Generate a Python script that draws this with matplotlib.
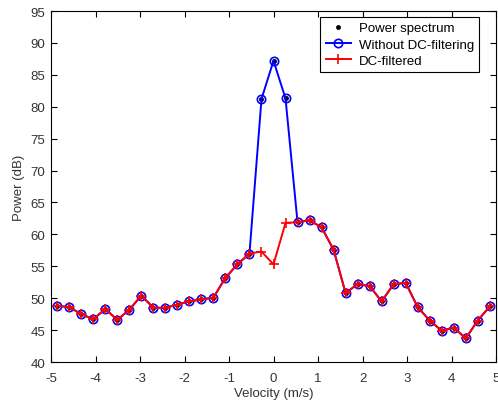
import numpy as np
import matplotlib.pyplot as plt

plt.rcParams['font.family'] = ['Liberation Sans', 'DejaVu Sans']
plt.rcParams['axes.unicode_minus'] = False

# velocity bins, k * dv
dv = 0.27
bins = np.arange(-18, 19)

# without DC filtering (also the raw power spectrum)
power_raw = [48.8, 48.6, 47.5, 46.7, 48.3, 46.6, 48.2, 50.4, 48.5, 48.5,
             49.0, 49.5, 49.8, 50.1, 53.2, 55.3, 57.0, 81.2, 87.2, 81.3,
             61.9, 62.2, 61.1, 57.6, 50.8, 52.2, 51.9, 49.5, 52.2, 52.4,
             48.6, 46.5, 44.9, 45.4, 43.7, 46.5, 48.7]

# DC-filtered, only the three bins round zero change
power_dc = list(power_raw)
power_dc[17] = 57.3
power_dc[18] = 55.3
power_dc[19] = 61.8

vel = bins * dv

fig = plt.figure(figsize=(4.98, 4.02), dpi=100)
ax = fig.add_axes([51 / 498, 1 - 363 / 402, 445 / 498, 351 / 402])

ax.plot(vel, power_raw, 'k.', markersize=5, label='Power spectrum')
ax.plot(vel, power_raw, '-o', color='#0000ff', lw=1.4, markersize=6,
        mfc='none', mew=1.2, label='Without DC-filtering')
ax.plot(vel, power_dc, '-+', color='#ff0000', lw=1.4, markersize=7,
        mew=1.2, label='DC-filtered')

ax.set_xlim(-5, 5)
ax.set_ylim(40, 95)
ax.set_xticks(np.arange(-5, 6, 1))
ax.set_yticks(np.arange(40, 96, 5))
ax.tick_params(direction='in', top=True, right=True, length=4,
               labelsize=9.5, width=0.8, labelcolor='#333333')
ax.tick_params(axis='x', pad=7)
ax.tick_params(axis='y', pad=4)
for s in ax.spines.values():
    s.set_linewidth(0.8)

ax.set_xlabel('Velocity (m/s)', fontsize=9.5, labelpad=2, color='#333333')
ax.set_ylabel('Power (dB)', fontsize=9.5, labelpad=4, color='#333333')

leg = ax.legend(loc='upper right', bbox_to_anchor=(0.962, 0.983),
                fontsize=9.5, fancybox=False, edgecolor='black',
                framealpha=1, handlelength=1.9, handletextpad=0.6,
                borderpad=0.4, labelspacing=0.3, borderaxespad=0)
leg.get_frame().set_linewidth(0.8)

fig.savefig('out.png', dpi=100)
